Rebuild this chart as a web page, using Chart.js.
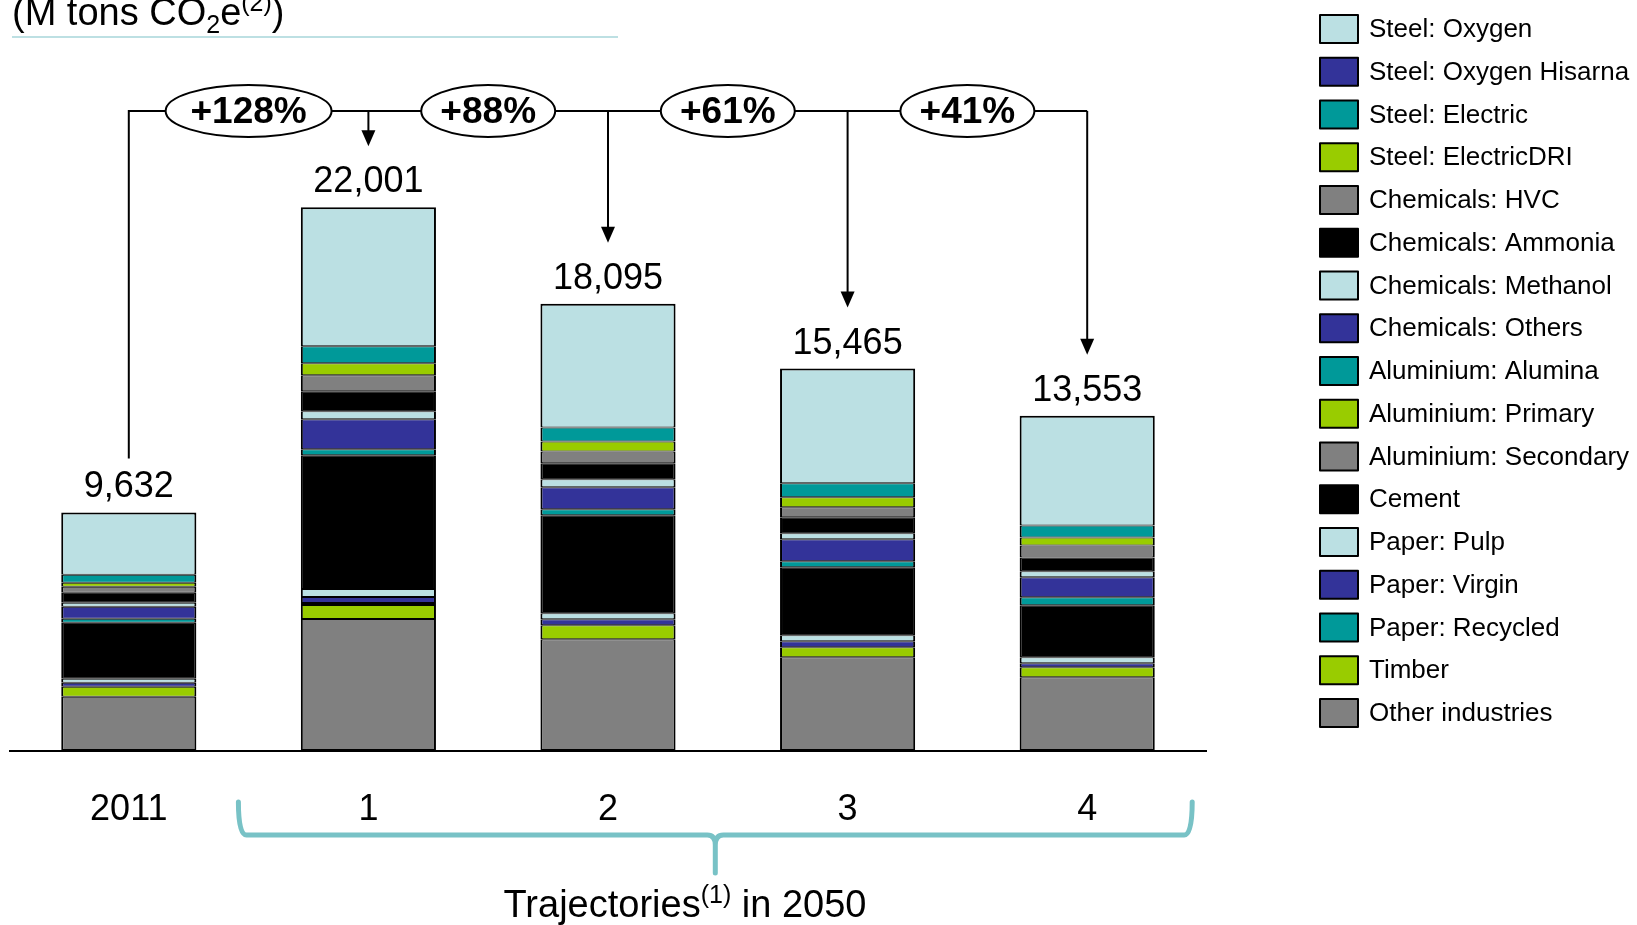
<!DOCTYPE html>
<html>
<head>
<meta charset="utf-8">
<script src="https://cdn.jsdelivr.net/npm/chart.js@4.4.1/dist/chart.umd.min.js"></script>
<style>
  html, body { margin: 0; padding: 0; background: #ffffff; }
  #wrap { position: relative; width: 1637px; height: 925px; }
</style>
</head>
<body>
<div id="wrap"><canvas id="chart"></canvas></div>
<script>
// Industrial emissions by sector, M tons CO2e: 2011 and four 2050 trajectories
const categories = ['2011', '1', '2', '3', '4'];

// Series, listed from the bottom of each stack upwards
const otherIndustries   = [2160, 5308, 4490, 3762, 2948];
const timber            = [405, 567, 567, 405, 405];
const paperRecycled     = [0, 81, 0, 0, 0];
const paperVirgin       = [162, 243, 243, 243, 162];
const paperPulp         = [162, 324, 243, 243, 243];
const cement            = [2269, 5430, 3971, 2755, 2107];
const aluSecondary      = [0, 0, 0, 0, 0];
const aluPrimary        = [0, 0, 0, 0, 0];
const aluAlumina        = [162, 243, 243, 243, 324];
const chemOthers        = [486, 1216, 891, 891, 810];
const chemMethanol      = [162, 324, 324, 243, 243];
const chemAmmonia       = [405, 810, 648, 648, 567];
const chemHVC           = [243, 648, 486, 405, 486];
const steelElectricDRI  = [162, 486, 405, 405, 324];
const steelElectric     = [324, 689, 567, 567, 486];
const steelOxygenHisarna = [0, 0, 0, 0, 0];
const steelOxygen       = [2530, 5632, 5017, 4655, 4448];

const LIGHT = '#BBE0E3', NAVY = '#333399', TEAL = '#009999', LIME = '#99CC00', GREY = '#808080', BLACK = '#000000';

const seriesDefs = [
  ['Other industries', otherIndustries, GREY],
  ['Timber', timber, LIME],
  ['Paper: Recycled', paperRecycled, TEAL],
  ['Paper: Virgin', paperVirgin, NAVY],
  ['Paper: Pulp', paperPulp, LIGHT],
  ['Cement', cement, BLACK],
  ['Aluminium: Secondary', aluSecondary, GREY],
  ['Aluminium: Primary', aluPrimary, LIME],
  ['Aluminium: Alumina', aluAlumina, TEAL],
  ['Chemicals: Others', chemOthers, NAVY],
  ['Chemicals: Methanol', chemMethanol, LIGHT],
  ['Chemicals: Ammonia', chemAmmonia, BLACK],
  ['Chemicals: HVC', chemHVC, GREY],
  ['Steel: ElectricDRI', steelElectricDRI, LIME],
  ['Steel: Electric', steelElectric, TEAL],
  ['Steel: Oxygen Hisarna', steelOxygenHisarna, NAVY],
  ['Steel: Oxygen', steelOxygen, LIGHT]
];

const totals = categories.map((_, i) => seriesDefs.reduce((s, d) => s + d[1][i], 0));

const FONT = '"Liberation Sans", Arial, Helvetica, sans-serif';

const datasets = seriesDefs.map(([label, data, color], k) => ({
  label,
  data,
  backgroundColor: color,
  borderColor: '#000000',
  borderWidth: { left: 2, right: 2, top: k === seriesDefs.length - 1 ? 2 : 1, bottom: 1 },
  borderSkipped: false,
  barPercentage: 0.564,
  categoryPercentage: 1.0
}));

// Draws text with sub/superscript pieces: parts = [[text, kind]], kind: 'n' | 'sub' | 'sup'
function richText(ctx, parts, x, y, size, align, smallRatio) {
  const small = Math.round(size * (smallRatio || 0.62));
  const widths = parts.map(([t, k]) => {
    ctx.font = (k === 'n' ? size : small) + 'px ' + FONT;
    return ctx.measureText(t).width;
  });
  const total = widths.reduce((a, b) => a + b, 0);
  let cx = align === 'center' ? x - total / 2 : x;
  ctx.textAlign = 'left';
  ctx.textBaseline = 'alphabetic';
  parts.forEach(([t, k], i) => {
    ctx.font = (k === 'n' ? size : small) + 'px ' + FONT;
    const dy = k === 'sub' ? size * 0.22 : (k === 'sup' ? -size * 0.36 : 0);
    ctx.fillText(t, cx, y + dy);
    cx += widths[i];
  });
}

const annotations = {
  id: 'annotations',
  afterDraw(chart) {
    const { ctx, chartArea } = chart;
    const xs = chart.scales.x, ys = chart.scales.y;
    const cx = i => xs.getPixelForValue(i);
    const topY = i => ys.getPixelForValue(totals[i]);
    ctx.save();

    // Baseline
    ctx.strokeStyle = '#000';
    ctx.lineWidth = 2;
    ctx.beginPath();
    ctx.moveTo(chartArea.left, chartArea.bottom + 1);
    ctx.lineTo(chartArea.right, chartArea.bottom + 1);
    ctx.stroke();

    // Total labels above bars
    ctx.fillStyle = '#000';
    ctx.font = '36px ' + FONT;
    ctx.textAlign = 'center';
    ctx.textBaseline = 'alphabetic';
    totals.forEach((t, i) => {
      ctx.fillText(t.toLocaleString('en-US'), cx(i), topY(i) - 15);
    });

    // Category labels below axis
    ctx.font = '36px ' + FONT;
    categories.forEach((c, i) => ctx.fillText(c, cx(i), chartArea.bottom + 70));

    // Connector from the 2011 bar to each trajectory
    const lineY = 111;
    ctx.lineWidth = 2;
    ctx.beginPath();
    ctx.moveTo(cx(0), topY(0) - 54);
    ctx.lineTo(cx(0), lineY);
    ctx.lineTo(cx(categories.length - 1), lineY);
    ctx.stroke();
    for (let i = 1; i < categories.length; i++) {
      const tip = topY(i) - 61;
      ctx.beginPath();
      ctx.moveTo(cx(i), lineY);
      ctx.lineTo(cx(i), tip - 14);
      ctx.stroke();
      ctx.beginPath();
      ctx.moveTo(cx(i) - 7, tip - 16);
      ctx.lineTo(cx(i) + 7, tip - 16);
      ctx.lineTo(cx(i), tip);
      ctx.closePath();
      ctx.fill();
    }

    // Growth ellipses
    for (let i = 1; i < categories.length; i++) {
      const mx = (cx(i - 1) + cx(i)) / 2;
      const pct = Math.round((totals[i] / totals[0] - 1) * 100);
      const label = '+' + pct + '%';
      const rx = label.length > 4 ? 83 : 67;
      ctx.beginPath();
      ctx.ellipse(mx, lineY, rx, 26, 0, 0, Math.PI * 2);
      ctx.fillStyle = '#fff';
      ctx.fill();
      ctx.lineWidth = 2;
      ctx.strokeStyle = '#000';
      ctx.stroke();
      ctx.fillStyle = '#000';
      ctx.font = 'bold 37px ' + FONT;
      ctx.textAlign = 'center';
      ctx.textBaseline = 'middle';
      ctx.fillText(label, mx, lineY + 2);
    }

    // Brace grouping the 2050 trajectories
    const bl = cx(1) - 130, br = cx(categories.length - 1) + 105;
    const bm = (bl + br) / 2;
    const bTop = 802, bY = 835, bTip = 873, r = 8;
    ctx.strokeStyle = '#78C2C6';
    ctx.lineWidth = 5;
    ctx.lineCap = 'round';
    ctx.lineJoin = 'round';
    ctx.beginPath();
    ctx.moveTo(bl, bTop);
    ctx.quadraticCurveTo(bl, bY, bl + r, bY);
    ctx.lineTo(bm - r, bY);
    ctx.quadraticCurveTo(bm, bY, bm, bY + r + 2);
    ctx.lineTo(bm, bTip);
    ctx.moveTo(bm, bY + r + 2);
    ctx.quadraticCurveTo(bm, bY, bm + r, bY);
    ctx.lineTo(br - r, bY);
    ctx.quadraticCurveTo(br, bY, br, bTop);
    ctx.stroke();

    ctx.fillStyle = '#000';
    richText(ctx, [['Trajectories', 'n'], ['(1)', 'sup'], [' in 2050', 'n']], 685, 917, 38, 'center', 0.66);

    // Unit title and rule
    richText(ctx, [['(M tons CO', 'n'], ['2', 'sub'], ['e', 'n'], ['(2)', 'sup'], [')', 'n']], 12, 25, 38, 'left', 0.66);
    ctx.strokeStyle = '#BDE0E3';
    ctx.lineWidth = 2;
    ctx.lineCap = 'butt';
    ctx.beginPath();
    ctx.moveTo(12, 37);
    ctx.lineTo(618, 37);
    ctx.stroke();

    // Legend, top of stack first
    const legendItems = chart.data.datasets.slice().reverse();
    ctx.font = '26px ' + FONT;
    ctx.textAlign = 'left';
    ctx.textBaseline = 'middle';
    legendItems.forEach((ds, j) => {
      const y = 29 + j * 42.75;
      ctx.fillStyle = ds.backgroundColor;
      ctx.fillRect(1320, y - 14, 38, 28);
      ctx.strokeStyle = '#000';
      ctx.lineWidth = 2;
      ctx.strokeRect(1320, y - 14, 38, 28);
      ctx.fillStyle = '#000';
      ctx.fillText(ds.label, 1369, y + 1);
    });

    ctx.restore();
  }
};

new Chart(document.getElementById('chart'), {
  type: 'bar',
  data: { labels: categories, datasets },
  options: {
    responsive: true,
    maintainAspectRatio: false,
    animation: false,
    layout: { padding: { left: 9, right: 430, top: 10, bottom: 175 } },
    plugins: { legend: { display: false }, tooltip: { enabled: false } },
    scales: {
      x: { stacked: true, display: false },
      y: { stacked: true, display: false, min: 0, max: 30000 }
    }
  },
  plugins: [annotations]
});
</script>
</body>
</html>
